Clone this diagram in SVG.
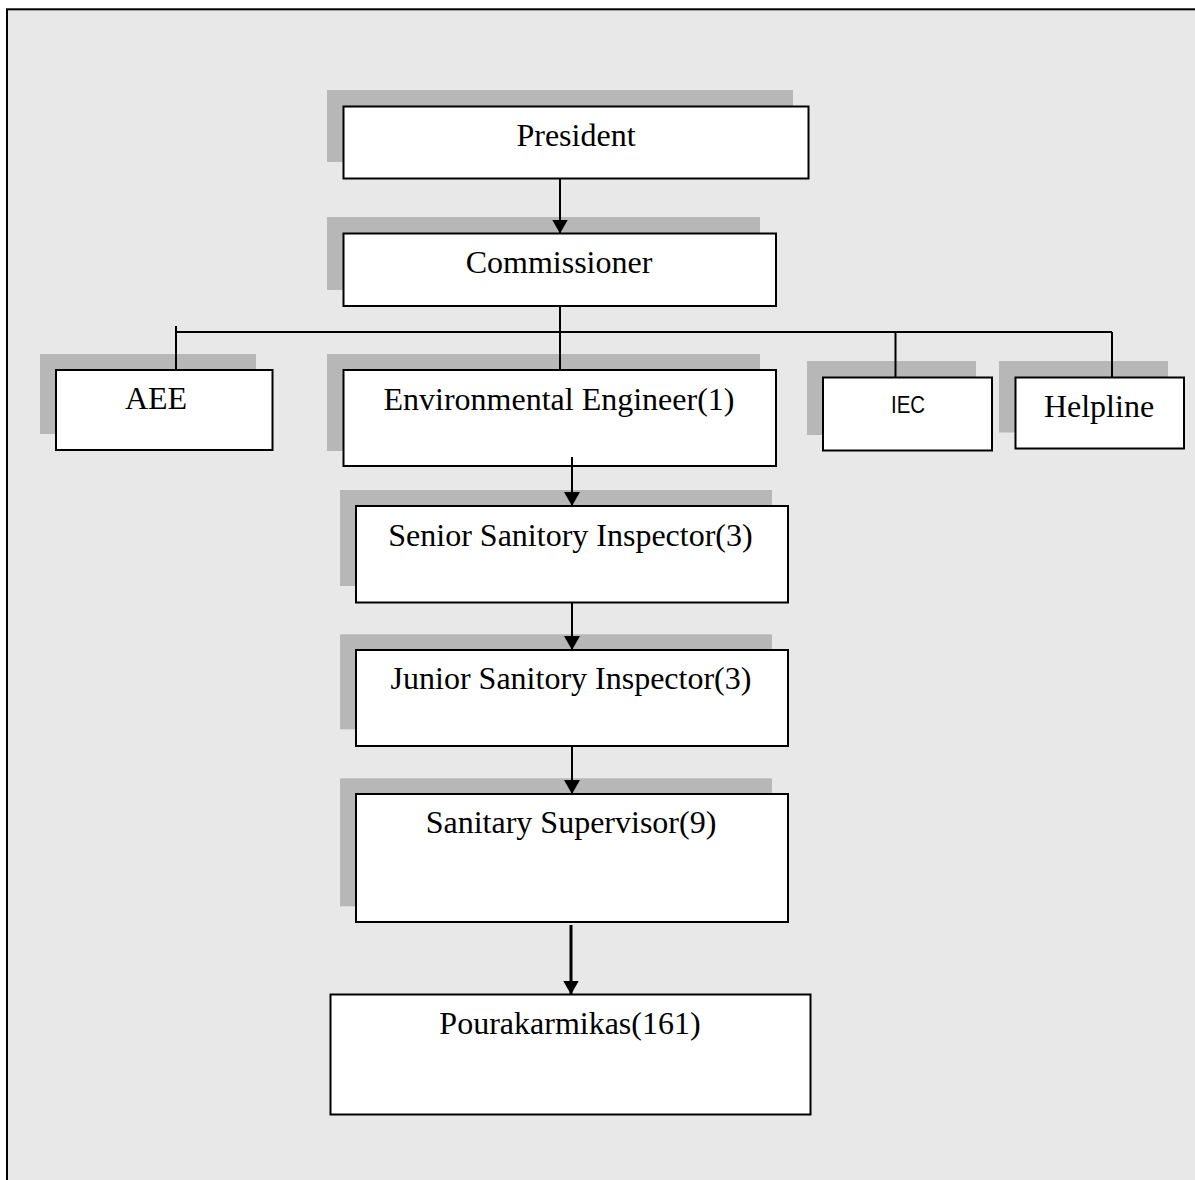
<svg xmlns="http://www.w3.org/2000/svg" width="1195" height="1180" viewBox="0 0 1195 1180">
<style>
.bg{fill:#e8e8e8;stroke:#000;stroke-width:2}
.sh{fill:#b7b7b7}
.bx{fill:#fff;stroke:#000;stroke-width:2}
.t{font-family:"Liberation Serif","Times New Roman",serif;font-size:32px;fill:#000;text-anchor:middle}
.ts{font-family:"Liberation Sans Narrow","Liberation Sans",sans-serif;font-size:23px;fill:#000;text-anchor:middle}
.ln{stroke:#000;stroke-width:2;fill:none}
.ar{stroke:#000;stroke-width:2;fill:none;marker-end:url(#ah)}
</style>
<defs>
<marker id="ah" viewBox="0 0 14 16" refX="14" refY="8" markerWidth="14" markerHeight="16" markerUnits="userSpaceOnUse" orient="auto">
<path d="M0,0 L14,8 L0,16 z" fill="#000"/>
</marker>
</defs>
<rect class="bg" x="7" y="9.3" width="1200" height="1200"/>
<g id="president">
<rect class="sh" x="327" y="90" width="466" height="72"/>
<rect class="bx" x="343.5" y="106.5" width="465" height="72"/>
<text class="t" x="576" y="146">President</text>
</g>
<g id="commissioner">
<rect class="sh" x="327" y="217" width="433" height="73"/>
<rect class="bx" x="343.5" y="233.5" width="432.5" height="72.5"/>
<text class="t" x="559" y="273">Commissioner</text>
</g>
<g id="aee">
<rect class="sh" x="40" y="354" width="216" height="80"/>
<rect class="bx" x="56" y="370" width="216.5" height="80"/>
<text class="t" x="156" y="409">AEE</text>
</g>
<g id="env-engineer">
<rect class="sh" x="327" y="354" width="433" height="97"/>
<rect class="bx" x="343.5" y="370" width="432.5" height="96"/>
<text class="t" x="559" y="410">Environmental Engineer(1)</text>
</g>
<g id="iec">
<rect class="sh" x="807" y="361" width="169" height="74"/>
<rect class="bx" x="823" y="377.5" width="169" height="73"/>
<text class="ts" x="908" y="413" textLength="34" lengthAdjust="spacingAndGlyphs">IEC</text>
</g>
<g id="helpline">
<rect class="sh" x="999" y="361" width="169" height="71.5"/>
<rect class="bx" x="1015.5" y="377.5" width="168.5" height="71"/>
<text class="t" x="1099" y="417">Helpline</text>
</g>
<g id="senior-si">
<rect class="sh" x="340" y="490" width="432" height="96"/>
<rect class="bx" x="356" y="506" width="432" height="96.5"/>
<text class="t" x="570.5" y="546">Senior Sanitory Inspector(3)</text>
</g>
<g id="junior-si">
<rect class="sh" x="340" y="634.3" width="432" height="95"/>
<rect class="bx" x="356" y="650" width="432" height="96"/>
<text class="t" x="571" y="689">Junior Sanitory Inspector(3)</text>
</g>
<g id="sanitary-supervisor">
<rect class="sh" x="340" y="778.3" width="432" height="128"/>
<rect class="bx" x="356" y="794" width="432" height="128"/>
<text class="t" x="571" y="833">Sanitary Supervisor(9)</text>
</g>
<g id="pourakarmikas">
<rect class="bx" x="330.5" y="994.5" width="480" height="120"/>
<text class="t" x="570" y="1034">Pourakarmikas(161)</text>
</g>
<g id="connectors">
<line class="ar" x1="560" y1="179" x2="560" y2="233.5"/>
<line class="ln" x1="560" y1="306" x2="560" y2="370"/>
<line class="ln" x1="176" y1="332" x2="1112" y2="332"/>
<line class="ln" x1="176" y1="326" x2="176" y2="370"/>
<line class="ln" x1="895.5" y1="332" x2="895.5" y2="377.5"/>
<line class="ln" x1="1112" y1="332" x2="1112" y2="377.5"/>
<line class="ar" x1="572" y1="457" x2="572" y2="506"/>
<line class="ar" x1="572" y1="602.5" x2="572" y2="650"/>
<line class="ar" x1="572" y1="746" x2="572" y2="794"/>
<line class="ar" x1="571" y1="925" x2="571" y2="994.5" style="stroke-width:3"/>
</g>
</svg>
